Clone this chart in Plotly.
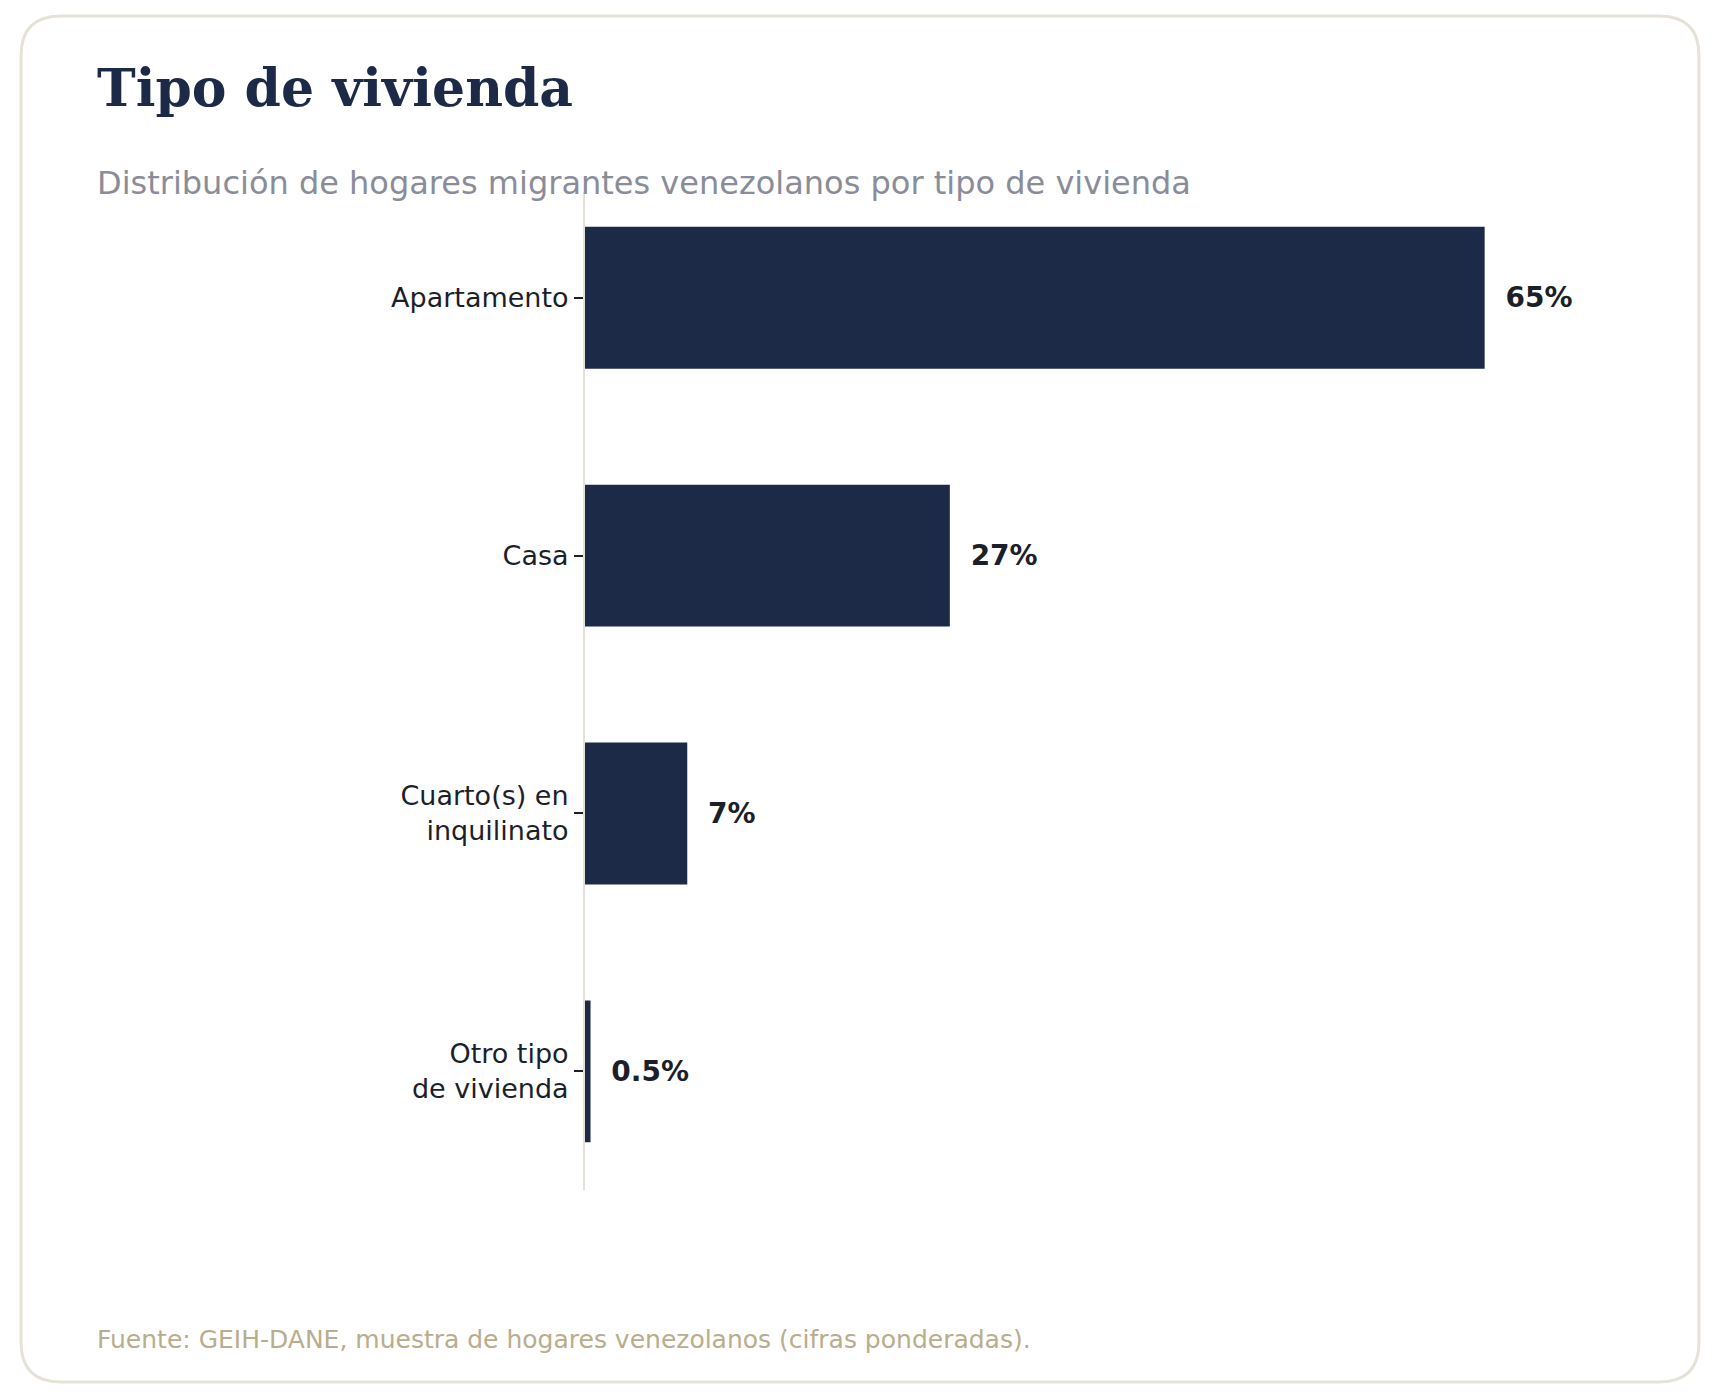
import plotly.graph_objects as go

categories = ["Apartamento", "Casa", "Cuarto(s) en<br>inquilinato", "Otro tipo<br>de vivienda"]
values = [65.1, 26.4, 7.4, 0.4]
labels = ["65%", "27%", "7%", "0.5%"]

navy = "#1c2a47"
W, H = 1720, 1400
L, R, T, B = 577, 148, 184, 218
fig = go.Figure(go.Bar(
    y=list(range(len(categories))), x=values, orientation="h", width=0.55,
    marker=dict(color=navy, line=dict(width=0)),
    text=["\u00a0\u00a0<b>%s</b>" % l for l in labels], textposition="outside",
    textfont=dict(family="DejaVu Sans", size=28, color="#1c1f2a"),
    cliponaxis=False,
))
fig.update_layout(
    width=W, height=H, paper_bgcolor="white", plot_bgcolor="white",
    margin=dict(l=L, r=R, t=T, b=B), showlegend=False,
    font=dict(family="DejaVu Sans"),
    xaxis=dict(range=[0, 72], visible=False),
    yaxis=dict(range=[3.46, -0.41], showline=True, linecolor="#e3e0d8", linewidth=2,
               tickmode="array", tickvals=list(range(len(categories))), ticktext=categories,
               ticks="outside", ticklen=9, tickwidth=2, tickcolor="#1c1f2a", showgrid=False,
               zeroline=False, tickfont=dict(size=27, color="#1c1f2a")),
)
plot_w = W - L - R
plot_h = H - T - B
def px2x(px): return (px - L) / plot_w
def py2y(py): return 1 - (py - T) / plot_h
def conv(p):
    out = []
    for t in p.split():
        if "," in t:
            a, b = t.split(",")
            out.append(f"{px2x(float(a)):.5f},{py2y(float(b)):.5f}")
        else:
            out.append(t)
    return " ".join(out)
xa, xb, ya, yb, rr = 13, 1691, 8, 1374, 40
path = (f"M {xa+rr},{ya} L {xb-rr},{ya} Q {xb},{ya} {xb},{ya+rr} L {xb},{yb-rr} "
        f"Q {xb},{yb} {xb-rr},{yb} L {xa+rr},{yb} Q {xa},{yb} {xa},{yb-rr} L {xa},{ya+rr} Q {xa},{ya} {xa+rr},{ya} Z")
fig.add_shape(type="path", xref="paper", yref="paper", path=conv(path),
              line=dict(color="#e6e2d8", width=3), layer="below")

fig.add_annotation(x=px2x(87), y=py2y(79), xref="paper", yref="paper", xanchor="left", yanchor="middle",
                   text="<b>Tipo de vivienda</b>", showarrow=False,
                   font=dict(family="DejaVu Serif", size=52, color=navy))
fig.add_annotation(x=px2x(87), y=py2y(175), xref="paper", yref="paper", xanchor="left", yanchor="middle",
                   text="Distribución de hogares migrantes venezolanos por tipo de vivienda", showarrow=False,
                   font=dict(size=32, color="#8a8d99"))
fig.add_annotation(x=px2x(87), y=py2y(1331), xref="paper", yref="paper", xanchor="left", yanchor="middle",
                   text="Fuente: GEIH-DANE, muestra de hogares venezolanos (cifras ponderadas).", showarrow=False,
                   font=dict(size=25, color="#b8ad8c"))
fig.write_html("out.html")
